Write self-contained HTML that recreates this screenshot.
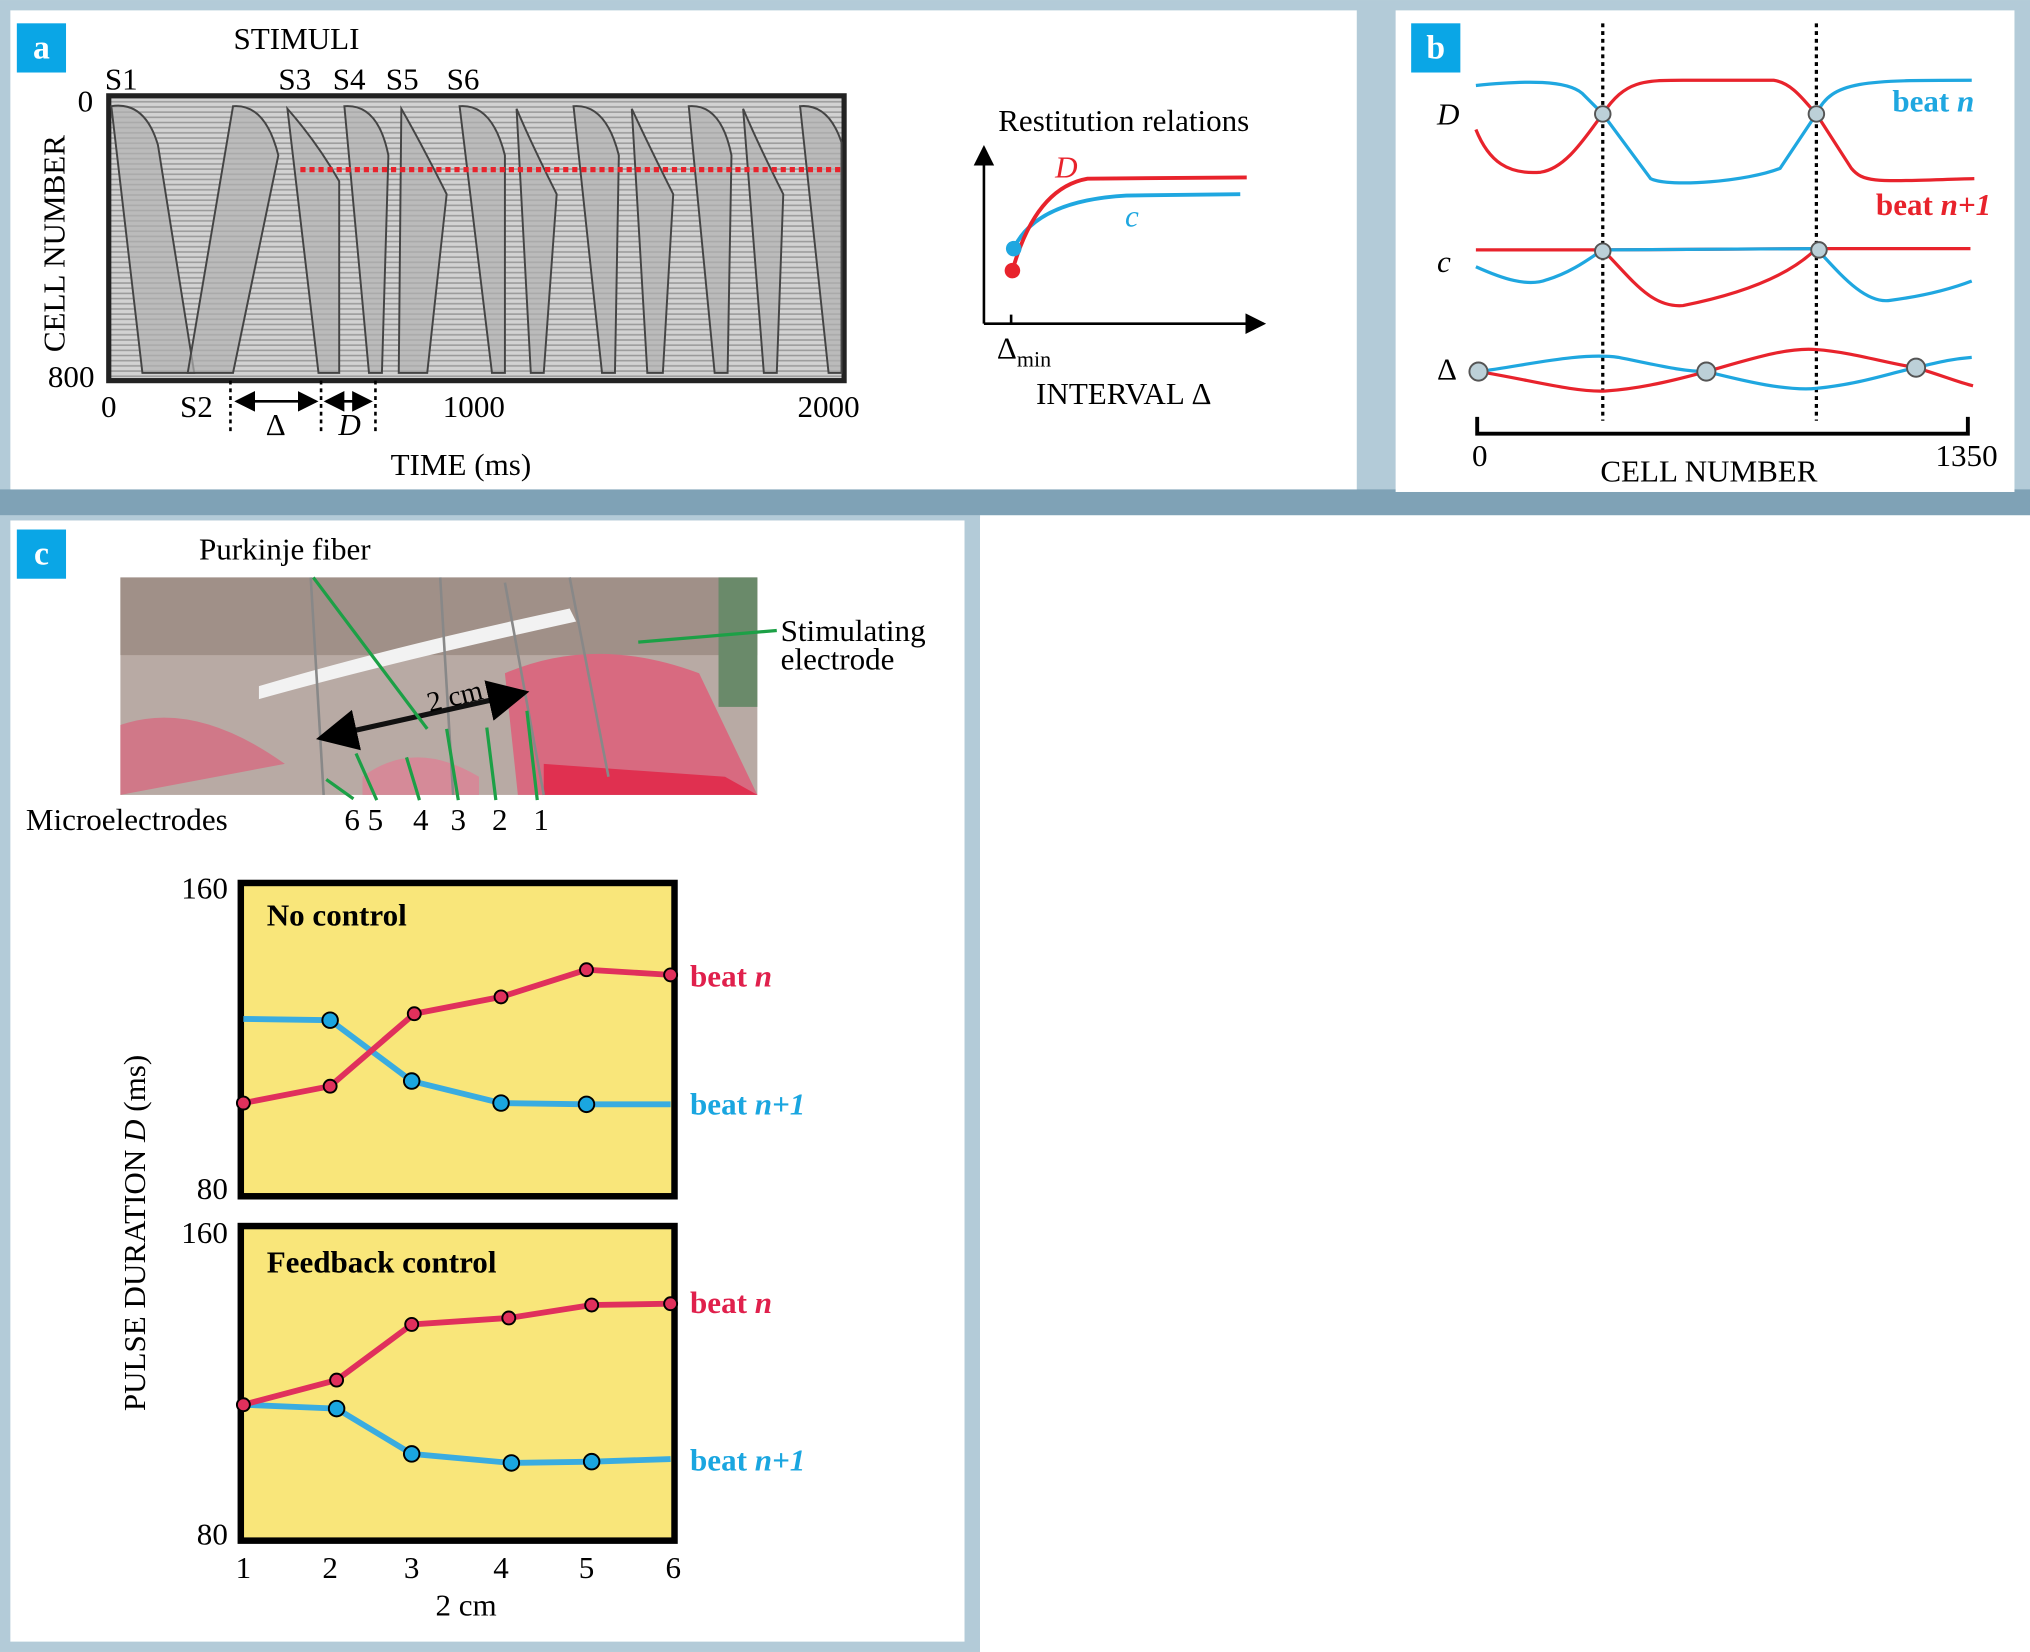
<!DOCTYPE html>
<html><head><meta charset="utf-8"><style>html,body{margin:0;padding:0;background:#fff}svg{display:block}</style></head>
<body>
<svg width="2030" height="1652" viewBox="0 0 1568 1276" xmlns="http://www.w3.org/2000/svg" font-family="Liberation Serif, serif">
<defs>
<pattern id="hl" width="6" height="4" patternUnits="userSpaceOnUse"><rect width="6" height="4" fill="#d2d2d2"/><rect y="2" width="6" height="1.2" fill="#9a9a9a"/></pattern>
<marker id="ah" markerWidth="8" markerHeight="8" refX="7" refY="4" orient="auto"><path d="M0,0 L8,4 L0,8 Z" fill="#000"/></marker>
<marker id="ah2" markerWidth="8" markerHeight="8" refX="7" refY="4" orient="auto-start-reverse"><path d="M0,0 L8,4 L0,8 Z" fill="#000"/></marker>
</defs>
<rect width="1568" height="1276" fill="#fff"/>
<rect width="1568" height="400" fill="#b3cbd8"/>
<rect x="0" y="378" width="1568" height="20" fill="#7fa2b6"/>
<rect x="0" y="398" width="757" height="878" fill="#b3cbd8"/>
<rect x="757" y="398" width="811" height="878" fill="#fff"/>
<!-- panel a -->
<rect x="8" y="8" width="1040" height="370" fill="#fff"/>
<rect x="13" y="18" width="38" height="38" fill="#0aa6e6"/>
<text x="32" y="45" font-size="26" fill="#fff" text-anchor="middle" font-weight="bold">a</text>
<text x="229" y="38" font-size="24" text-anchor="middle">STIMULI</text>
<g font-size="24"><text x="81" y="69">S1</text><text x="215" y="69">S3</text><text x="257" y="69">S4</text><text x="298" y="69">S5</text><text x="345" y="69">S6</text></g>
<text x="60" y="86" font-size="24">0</text>
<text x="37" y="299" font-size="24">800</text>
<text transform="translate(50,272) rotate(-90)" font-size="24">CELL NUMBER</text>
<rect x="84" y="74" width="568" height="220" fill="url(#hl)" stroke="#222" stroke-width="4"/>
<g fill="#b0b0b0" fill-opacity="0.7" stroke="#444" stroke-width="1.5">
<path d="M86,82 Q112,78 122,112 L150,288 L110,288 Z"/>
<path d="M180,82 Q205,80 215,120 L180,288 L145,288 Z"/>
<path d="M222,84 Q245,110 262,140 L262,288 L246,288 Z"/>
<path d="M266,82 Q292,80 300,120 L295,288 L285,288 Z"/>
<path d="M310,84 Q325,110 345,150 L330,288 L308,288 Z"/>
<path d="M355,82 Q380,80 390,120 L390,288 L380,288 Z"/>
<path d="M399,84 Q410,110 430,150 L420,288 L410,288 Z"/>
<path d="M443,82 Q468,80 478,120 L475,288 L465,288 Z"/>
<path d="M488,84 Q500,110 520,150 L512,288 L500,288 Z"/>
<path d="M532,82 Q557,80 565,120 L562,288 L552,288 Z"/>
<path d="M574,84 Q585,110 605,150 L600,288 L590,288 Z"/>
<path d="M618,82 Q640,80 650,110 L650,288 L640,288 Z"/>
</g>
<line x1="232" y1="131" x2="650" y2="131" stroke="#e8232c" stroke-width="4" stroke-dasharray="4,3"/>
<g font-size="24"><text x="78" y="322">0</text><text x="139" y="322">S2</text><text x="342" y="322">1000</text><text x="616" y="322">2000</text></g>
<g stroke="#000" stroke-width="2" stroke-dasharray="3,3"><line x1="178" y1="294" x2="178" y2="336"/><line x1="248" y1="294" x2="248" y2="336"/><line x1="290" y1="294" x2="290" y2="336"/></g>
<line x1="183" y1="310" x2="244" y2="310" stroke="#000" stroke-width="2" marker-start="url(#ah2)" marker-end="url(#ah)"/>
<line x1="252" y1="310" x2="286" y2="310" stroke="#000" stroke-width="2" marker-start="url(#ah2)" marker-end="url(#ah)"/>
<text x="213" y="336" font-size="24" text-anchor="middle">Δ</text>
<text x="270" y="336" font-size="24" text-anchor="middle" font-style="italic">D</text>
<text x="356" y="367" font-size="24" text-anchor="middle">TIME (ms)</text>
<text x="868" y="101" font-size="24" text-anchor="middle">Restitution relations</text>
<line x1="760" y1="250" x2="760" y2="114" stroke="#000" stroke-width="2" marker-end="url(#ah)"/>
<line x1="760" y1="250" x2="976" y2="250" stroke="#000" stroke-width="2" marker-end="url(#ah)"/>
<line x1="781" y1="243" x2="781" y2="250" stroke="#000" stroke-width="2"/>
<path d="M783,192 Q800,155 870,151 L958,150" fill="none" stroke="#1fa7e0" stroke-width="3"/>
<path d="M782,209 Q800,145 840,138 L963,137" fill="none" stroke="#e8232c" stroke-width="3"/>
<circle cx="783" cy="192" r="6" fill="#1fa7e0"/><circle cx="782" cy="209" r="6" fill="#e8232c"/>
<text x="815" y="137" font-size="24" font-style="italic" fill="#e8232c">D</text>
<text x="869" y="175" font-size="24" font-style="italic" fill="#1fa7e0">c</text>
<text x="770" y="277" font-size="24">Δ<tspan font-size="17" dy="6">min</tspan></text>
<text x="868" y="312" font-size="24" text-anchor="middle">INTERVAL Δ</text>
<!-- panel b -->
<rect x="1078" y="8" width="478" height="372" fill="#fff"/>
<rect x="1090" y="18" width="38" height="38" fill="#0aa6e6"/>
<text x="1109" y="45" font-size="26" fill="#fff" text-anchor="middle" font-weight="bold">b</text>
<g stroke="#000" stroke-width="2.5" stroke-dasharray="3,3"><line x1="1238" y1="18" x2="1238" y2="325"/><line x1="1403" y1="18" x2="1403" y2="325"/></g>
<g fill="none" stroke-width="2.5">
<path d="M1140,66 C1180,62 1210,62 1222,72 L1238,88 L1275,138 C1290,145 1350,140 1375,130 L1403,88 C1415,62 1440,62 1523,62" stroke="#1fa7e0"/>
<path d="M1140,100 C1150,125 1165,135 1190,133 C1210,130 1225,105 1238,88 C1255,62 1270,62 1300,62 L1370,62 C1385,64 1395,80 1403,88 L1430,130 C1440,142 1450,140 1525,138" stroke="#e8232c"/>
<path d="M1140,193 L1238,193 L1403,192 L1522,192" stroke="#e8232c"/>
<path d="M1140,206 C1160,215 1180,222 1195,216 C1215,210 1230,198 1238,193 L1403,192 C1420,210 1440,235 1460,232 C1490,228 1510,222 1523,217" stroke="#1fa7e0"/>
<path d="M1238,193 C1260,215 1275,238 1300,236 C1340,228 1380,215 1403,192" stroke="#e8232c"/>
<path d="M1142,287 C1180,282 1220,272 1250,276 C1280,282 1300,287 1318,287 C1350,295 1380,302 1403,300 C1440,296 1460,288 1480,284 C1500,279 1510,277 1523,276" stroke="#1fa7e0"/>
<path d="M1142,287 C1180,293 1215,303 1240,302 C1270,300 1300,292 1318,287 C1350,278 1380,268 1403,270 C1430,272 1455,280 1480,284 C1500,290 1512,295 1524,298" stroke="#e8232c"/>
</g>
<g fill="#bcd0d8" stroke="#555" stroke-width="1.5"><circle cx="1238" cy="88" r="6"/><circle cx="1403" cy="88" r="6"/><circle cx="1238" cy="194" r="6"/><circle cx="1405" cy="193" r="6"/><circle cx="1142" cy="287" r="7"/><circle cx="1318" cy="287" r="7"/><circle cx="1480" cy="284" r="7"/></g>
<text x="1110" y="96" font-size="24" font-style="italic">D</text>
<text x="1110" y="210" font-size="24" font-style="italic">c</text>
<text x="1110" y="293" font-size="24">Δ</text>
<text x="1525" y="86" font-size="24" font-weight="bold" fill="#1fa7e0" text-anchor="end">beat <tspan font-style="italic">n</tspan></text>
<text x="1538" y="166" font-size="24" font-weight="bold" fill="#e8232c" text-anchor="end">beat <tspan font-style="italic">n+1</tspan></text>
<path d="M1141,322 L1141,335 L1520,335 L1520,322" fill="none" stroke="#000" stroke-width="3"/>
<text x="1143" y="360" font-size="24" text-anchor="middle">0</text>
<text x="1519" y="360" font-size="24" text-anchor="middle">1350</text>
<text x="1320" y="372" font-size="24" text-anchor="middle">CELL NUMBER</text>
<!-- panel c -->
<rect x="8" y="402" width="737" height="866" fill="#fff"/>
<rect x="13" y="409" width="38" height="38" fill="#0aa6e6"/>
<text x="32" y="436" font-size="26" fill="#fff" text-anchor="middle" font-weight="bold">c</text>
<text x="220" y="432" font-size="24" text-anchor="middle">Purkinje fiber</text>
<rect x="93" y="446" width="492" height="168" fill="#b8aaa4"/>
<rect x="93" y="446" width="492" height="60" fill="#a09088"/>
<path d="M93,560 Q150,540 220,590 L93,614 Z" fill="#d07888"/>
<path d="M390,520 Q460,490 540,520 L585,614 L400,614 Z" fill="#d86a80"/>
<path d="M420,590 L560,600 L585,614 L420,614 Z" fill="#e03050"/>
<path d="M280,600 Q320,570 370,600 L370,614 L280,614 Z" fill="#d58a98"/>
<path d="M200,530 Q300,500 440,470 L445,480 Q300,512 200,540 Z" fill="#f2f2f2"/>
<rect x="555" y="446" width="30" height="100" fill="#6a8a6a"/>
<g stroke="#888" stroke-width="2"><line x1="240" y1="446" x2="250" y2="614"/><line x1="340" y1="446" x2="350" y2="614"/><line x1="390" y1="450" x2="420" y2="614"/><line x1="440" y1="446" x2="470" y2="600"/></g>
<line x1="248" y1="570" x2="405" y2="535" stroke="#111" stroke-width="4" marker-start="url(#ah2)" marker-end="url(#ah)"/>
<text x="332" y="550" font-size="22" transform="rotate(-14 332 550)">2 cm</text>
<g stroke="#1ca046" stroke-width="2.5"><line x1="242" y1="446" x2="330" y2="563"/><line x1="493" y1="496" x2="600" y2="487"/><line x1="252" y1="602" x2="273" y2="617"/><line x1="275" y1="582" x2="291" y2="618"/><line x1="314" y1="585" x2="324" y2="618"/><line x1="345" y1="563" x2="354" y2="618"/><line x1="376" y1="562" x2="383" y2="618"/><line x1="407" y1="549" x2="415" y2="618"/></g>
<text x="603" y="495" font-size="24">Stimulating</text>
<text x="603" y="517" font-size="24">electrode</text>
<text x="20" y="641" font-size="24">Microelectrodes</text>
<text x="266" y="641" font-size="24">6 5</text><text x="319" y="641" font-size="24">4</text><text x="348" y="641" font-size="24">3</text><text x="380" y="641" font-size="24">2</text><text x="412" y="641" font-size="24">1</text>
<!-- charts -->
<rect x="186" y="682" width="335" height="242" fill="#f9e67a" stroke="#000" stroke-width="5"/>
<rect x="186" y="947" width="335" height="243" fill="#f9e67a" stroke="#000" stroke-width="5"/>
<text x="206" y="715" font-size="24" font-weight="bold">No control</text>
<text x="206" y="983" font-size="24" font-weight="bold">Feedback control</text>
<g font-size="24" text-anchor="end"><text x="176" y="694">160</text><text x="176" y="926">80</text><text x="176" y="960">160</text><text x="176" y="1193">80</text></g>
<text transform="translate(112,1090) rotate(-90)" font-size="24">PULSE DURATION <tspan font-style="italic">D</tspan> (ms)</text>
<g fill="none" stroke-width="4.5">
<polyline points="188,787 255,788 318,835 387,852 453,853 518,853" stroke="#3aace0"/>
<polyline points="188,852 255,839 320,783 387,770 453,749 518,753" stroke="#e0305c"/>
<polyline points="188,1085 260,1088 318,1123 395,1130 457,1129 518,1127" stroke="#3aace0"/>
<polyline points="188,1085 260,1066 318,1023 393,1018 457,1008 518,1007" stroke="#e0305c"/>
</g>
<g fill="#1aa6e0" stroke="#000" stroke-width="1.5"><circle cx="255" cy="788" r="6"/><circle cx="318" cy="835" r="6"/><circle cx="387" cy="852" r="6"/><circle cx="453" cy="853" r="6"/><circle cx="260" cy="1088" r="6"/><circle cx="318" cy="1123" r="6"/><circle cx="395" cy="1130" r="6"/><circle cx="457" cy="1129" r="6"/></g>
<g fill="#e0305c" stroke="#000" stroke-width="1.5"><circle cx="188" cy="852" r="5"/><circle cx="255" cy="839" r="5"/><circle cx="320" cy="783" r="5"/><circle cx="387" cy="770" r="5"/><circle cx="453" cy="749" r="5"/><circle cx="518" cy="753" r="5"/><circle cx="188" cy="1085" r="5"/><circle cx="260" cy="1066" r="5"/><circle cx="318" cy="1023" r="5"/><circle cx="393" cy="1018" r="5"/><circle cx="457" cy="1008" r="5"/><circle cx="518" cy="1007" r="5"/></g>
<g font-size="24" font-weight="bold">
<text x="533" y="762" fill="#e0204c">beat <tspan font-style="italic">n</tspan></text>
<text x="533" y="861" fill="#1aa6e0">beat <tspan font-style="italic">n+1</tspan></text>
<text x="533" y="1014" fill="#e0204c">beat <tspan font-style="italic">n</tspan></text>
<text x="533" y="1136" fill="#1aa6e0">beat <tspan font-style="italic">n+1</tspan></text>
</g>
<g font-size="24" text-anchor="middle"><text x="188" y="1219">1</text><text x="255" y="1219">2</text><text x="318" y="1219">3</text><text x="387" y="1219">4</text><text x="453" y="1219">5</text><text x="520" y="1219">6</text></g>
<text x="360" y="1248" font-size="24" text-anchor="middle">2 cm</text>
</svg>
</body></html>
